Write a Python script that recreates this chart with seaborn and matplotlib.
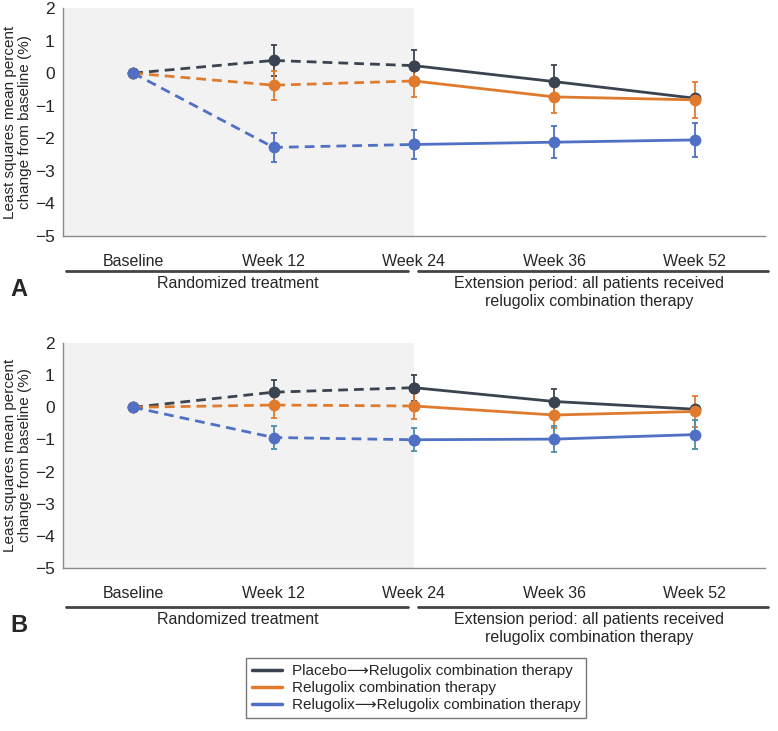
"""
Least squares mean percent change from baseline, two panels (A, B),
randomized period dashed, extension period solid.
"""
import matplotlib
matplotlib.use("Agg")
import matplotlib.pyplot as plt
import matplotlib.transforms as mtransforms
from matplotlib.lines import Line2D
import numpy as np
import pandas as pd
import seaborn as sns

visits = ["Baseline", "Week 12", "Week 24", "Week 36", "Week 52"]
groups = [
    "Placebo\u27f6Relugolix combination therapy",
    "Relugolix combination therapy",
    "Relugolix\u27f6Relugolix combination therapy",
]
colors = ["#3a4450", "#e07b2e", "#4f70c4"]
err_colors_b = ["#3a4450", "#e07b2e", "#4b8fa8"]

# panel A
a_placebo = [0.0, 0.39, 0.23, -0.26, -0.77]
a_relcomb = [0.0, -0.37, -0.24, -0.73, -0.82]
a_relrel = [0.0, -2.28, -2.19, -2.12, -2.05]
a_placebo_err = [0.0, 0.48, 0.48, 0.52, 0.0]
a_relcomb_err = [0.0, 0.45, 0.48, 0.50, 0.55]
a_relrel_err = [0.0, 0.45, 0.45, 0.50, 0.52]

# panel B
b_placebo = [0.0, 0.47, 0.61, 0.18, -0.06]
b_relcomb = [0.0, 0.07, 0.04, -0.24, -0.13]
b_relrel = [0.0, -0.94, -1.01, -0.99, -0.85]
b_placebo_err = [0.0, 0.37, 0.41, 0.39, 0.0]
b_relcomb_err = [0.0, 0.39, 0.40, 0.40, 0.47]
b_relrel_err = [0.0, 0.37, 0.36, 0.41, 0.45]

W, H = 778, 731


def long_frame(series):
    rows = []
    for g, vals in zip(groups, series):
        for i, v in enumerate(vals):
            if i <= 2:
                rows.append({"x": i, "y": v, "group": g, "period": "rand"})
            if i >= 2:
                rows.append({"x": i, "y": v, "group": g, "period": "ext"})
    return pd.DataFrame(rows)


def draw_panel(ax, series, errs, ecolors):
    df = long_frame(series)
    ax.axvspan(-0.5, 2, color="#f2f2f2", zorder=0, lw=0)
    sns.lineplot(
        data=df, x="x", y="y", hue="group", style="period",
        hue_order=groups, palette=colors,
        dashes={"rand": (3.5, 2.2), "ext": ""},
        markers={"rand": "o", "ext": "o"}, markersize=8.5,
        markeredgewidth=0, linewidth=2, legend=False, ax=ax, zorder=3,
    )
    xs = np.arange(len(visits))
    for vals, e, c in zip(series, errs, ecolors):
        e = np.array(e)
        m = e > 0
        ax.errorbar(xs[m], np.array(vals)[m], yerr=e[m], fmt="none",
                    ecolor=c, elinewidth=1.3, capsize=2.5, capthick=1.3, zorder=2)
    ax.set_xlim(-0.5, 4.5)
    ax.set_ylim(-5, 2)
    ax.set_xticks(xs)
    ax.set_xticklabels(visits)
    ax.set_yticks(range(-5, 3))
    ax.set_yticklabels([str(v).replace("-", "\u2212") for v in range(-5, 3)])
    ax.set_xlabel("")
    ax.set_ylabel("Least squares mean percent\nchange from baseline (%)", fontsize=11,
                  labelpad=2, linespacing=1.05)
    for s in ["top", "right"]:
        ax.spines[s].set_visible(False)
    for s in ["left", "bottom"]:
        ax.spines[s].set_color("#8a8a8a")
        ax.spines[s].set_linewidth(1.0)
    ax.tick_params(axis="x", length=4, color="#8a8a8a", pad=9, labelsize=11.5)
    ax.tick_params(axis="y", length=4, color="#8a8a8a", pad=2, labelsize=12.5)
    ax.set_facecolor("white")


def period_labels(fig, ax, bar_px, text_px, letter):
    tr = mtransforms.blended_transform_factory(ax.transData, fig.transFigure)
    yb = 1 - bar_px / H
    yt = 1 - text_px / H
    fig.add_artist(Line2D([-0.48, 1.96], [yb, yb], transform=tr, color="#444444", lw=2))
    fig.add_artist(Line2D([2.03, 4.52], [yb, yb], transform=tr, color="#444444", lw=2))
    fig.text(0.745, yt, "Randomized treatment", transform=tr, ha="center", va="top",
             fontsize=11.5)
    fig.text(3.25, yt, "Extension period: all patients received\nrelugolix combination therapy",
             transform=tr, ha="center", va="top", fontsize=11.5, linespacing=1.25)
    fig.text(10 / W, yt - 2 / H, letter, ha="left", va="top", fontsize=17, fontweight="bold")


def main():
    sns.set_style("white")
    plt.rcParams["font.family"] = ["Liberation Sans", "DejaVu Sans"]

    fig = plt.figure(figsize=(W / 100, H / 100), dpi=100)
    left, right = 63 / W, 765 / W
    ax_a = fig.add_axes([left, 1 - 236 / H, right - left, (236 - 8) / H])
    ax_b = fig.add_axes([left, 1 - 568 / H, right - left, (568 - 343) / H])

    draw_panel(ax_a, [a_placebo, a_relcomb, a_relrel],
               [a_placebo_err, a_relcomb_err, a_relrel_err], colors)
    draw_panel(ax_b, [b_placebo, b_relcomb, b_relrel],
               [b_placebo_err, b_relcomb_err, b_relrel_err], err_colors_b)

    period_labels(fig, ax_a, 271, 276, "A")
    period_labels(fig, ax_b, 607, 612, "B")

    handles = [Line2D([], [], color=c, lw=2.5) for c in colors]
    leg = fig.legend(handles, groups, loc="center", bbox_to_anchor=(416 / W, 1 - 688 / H),
                     frameon=True, fancybox=False, fontsize=11, handlelength=2.0,
                     borderpad=0.4, labelspacing=0.2, handletextpad=0.6)
    leg.get_frame().set_edgecolor("#555555")
    leg.get_frame().set_linewidth(1.0)

    fig.savefig("out.png", dpi=100)


if __name__ == "__main__":
    main()
